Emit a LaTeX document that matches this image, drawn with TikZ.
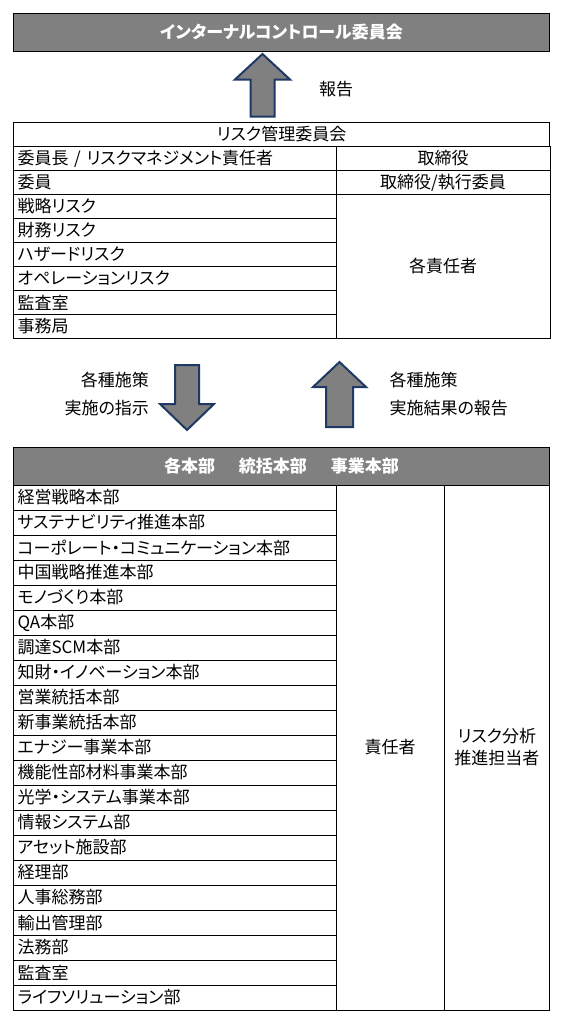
\documentclass[tikz,border=0pt]{standalone}
\usepackage{fontspec}
\setmainfont{Noto Sans CJK JP}[RawFeature=+palt]
\usetikzlibrary{positioning}
\definecolor{hd}{RGB}{128,128,128}
\definecolor{nv}{RGB}{31,56,100}

\begin{document}
\begin{tikzpicture}[x=1pt,y=-1pt,
  every node/.style={font=\fontsize{17}{22}\selectfont},
  cell/.style={draw,line width=1pt,anchor=north west,inner xsep=4pt,inner ysep=0pt,align=left,minimum height=24pt},
  mid/.style={cell,align=center},
  head/.style={mid,fill=hd,text=white,font=\fontsize{17}{22}\selectfont\bfseries},
  bigarrow/.style={draw=nv,line width=2pt,fill=hd,line join=miter}]
\useasboundingbox (0,0) rectangle (560,1020);
% top
\node[head,text width=528pt,minimum height=37.5pt](ic)at(13,13){インターナルコントロール委員会};
\draw[bigarrow](262.5,54)--(290,79.5)--(274.5,79.5)--(274.5,116.5)--(250.5,116.5)--(250.5,79.5)--(235,79.5)--cycle;
\node(rep)at(336,89){報告};
% risk committee
\node[mid,text width=528pt](rc)at(13,122){リスク管理委員会};
\foreach \t [count=\i] in {委員長 / リスクマネジメント責任者,委員,戦略リスク,財務リスク,ハザードリスク,オペレーションリスク,監査室,事務局}
  \node[cell,text width=314.5pt](r\i)at(13,122+24*\i){\t};
\node[mid,text width=206pt](d1)at(335.5,146){取締役};
\node[mid,text width=206pt](d2)at(335.5,170){取締役/執行委員};
\node[mid,text width=206pt,minimum height=144pt](d3)at(335.5,194){各責任者};
% middle
\draw[bigarrow](187,430)--(214,404)--(199,404)--(199,365)--(175,365)--(175,404)--(160,404)--cycle;
\draw[bigarrow](339.5,362)--(366,387)--(353,387)--(353,427)--(326,427)--(326,387)--(313,387)--cycle;
\node[anchor=east](l1)at(152.5,380){各種施策};
\node[anchor=east](l2)at(152.5,408){実施の指示};
\node[anchor=west](m1)at(386,380){各種施策};
\node[anchor=west](m2)at(386,408){実施結果の報告};
% divisions
\node[head,text width=528pt,minimum height=37.5pt](hq)at(13,447){各本部\hspace{1.4em}統括本部\hspace{1.4em}事業本部};
\foreach \t [count=\i] in {経営戦略本部,サステナビリティ推進本部,コーポレート・コミュニケーション本部,中国戦略推進本部,モノづくり本部,QA本部,調達SCM本部,知財・イノベーション本部,営業統括本部,新事業統括本部,エナジー事業本部,機能性部材料事業本部,光学・システム事業本部,情報システム部,アセット施設部,経理部,人事総務部,輸出管理部,法務部,監査室,ライフソリューション部}
  \node[cell,text width=314.5pt,minimum height=25pt](b\i)at(13,459.5+25*\i){\t};
\node[mid,text width=100pt,minimum height=525pt](resp)at(335.5,484.5){責任者};
\node[mid,text width=97.5pt,minimum height=525pt](ana)at(443.5,484.5){リスク分析\\推進担当者};
\end{tikzpicture}
\end{document}
